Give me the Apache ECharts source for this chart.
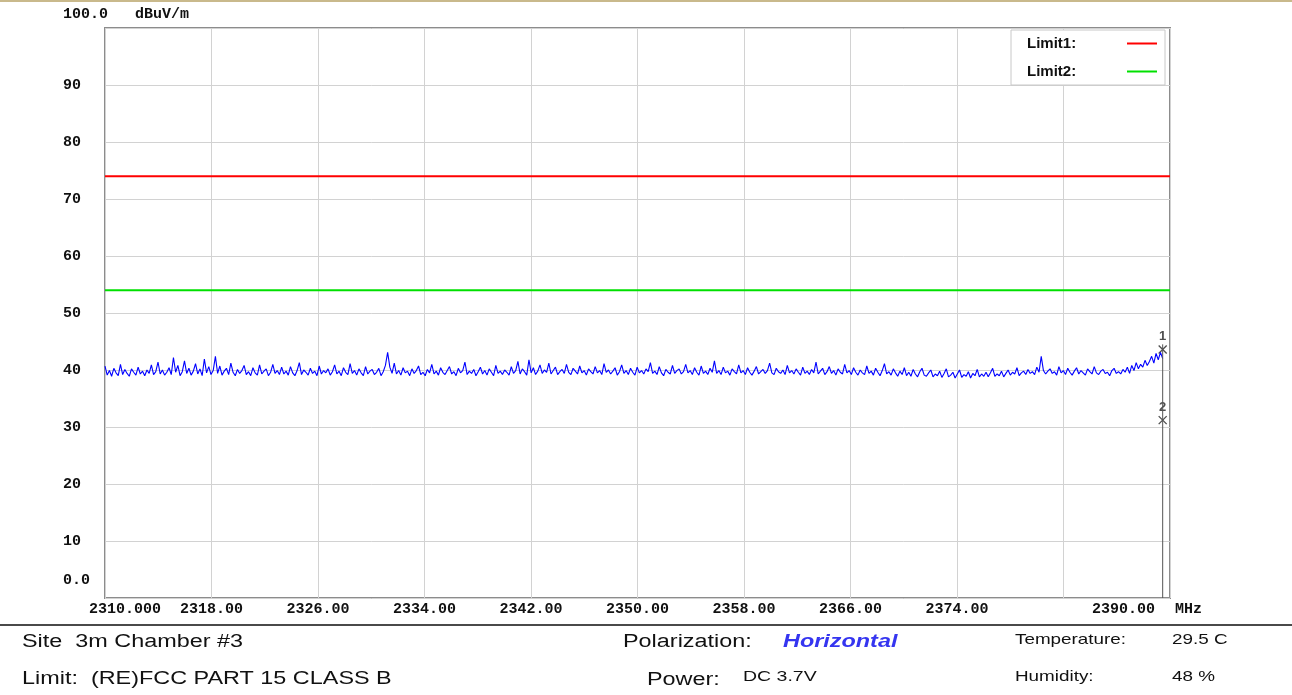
<!DOCTYPE html>
<html>
<head>
<meta charset="utf-8">
<script src="https://cdn.jsdelivr.net/npm/echarts@6/dist/echarts.min.js"></script>
<style>
html,body{margin:0;padding:0;background:#fff;}
#chart{width:1292px;height:695px;}
</style>
</head>
<body>
<div id="chart"></div>
<script>
// ---- data ----
const freqStart = 2310;
const freqEnd = 2389.45;
const traceValues = [
  40.7, 39.1, 39.9, 38.9, 40.3, 39.5, 39.0, 41.0, 39.2, 40.1, 39.4, 38.9, 40.2, 39.6, 39.1, 40.5, 39.3, 39.8, 39.0, 40.0,
  39.4, 40.9, 39.2, 39.7, 41.4, 39.3, 40.0, 39.1, 39.6, 40.4, 39.2, 42.2, 39.6, 40.8, 39.0, 39.7, 41.6, 39.4, 40.3, 39.1,
  39.8, 41.1, 39.3, 40.2, 39.0, 41.9, 39.5, 40.6, 39.2, 39.9, 42.4, 39.4, 40.7, 39.1, 39.8, 40.3, 39.2, 41.2, 39.6, 39.0,
  40.1, 39.4, 39.9, 40.8, 39.2, 39.7, 39.0, 40.4, 39.5, 39.1, 40.9, 39.3, 39.8, 40.2, 39.0, 39.6, 41.0, 39.4, 39.9, 39.2,
  40.5, 39.3, 39.8, 39.1, 40.6, 39.5, 39.0, 39.9, 41.3, 39.2, 40.0, 39.6, 39.1, 40.3, 39.4, 39.8, 39.0, 40.7, 39.3, 39.9,
  39.5, 40.2, 39.1, 39.7, 40.9, 39.3, 39.8, 39.0, 40.4, 39.6, 39.2, 41.1, 39.4, 39.9, 39.1, 40.2, 39.5, 39.0, 40.6, 39.3,
  39.8, 40.1, 39.2, 39.6, 40.3, 39.0, 39.7, 40.8, 43.1, 40.5, 39.4, 41.2, 39.3, 39.9, 39.1, 40.4, 39.5, 39.8, 39.0, 40.2,
  39.4, 39.9, 40.7, 39.2, 39.6, 39.0, 40.1, 39.5, 41.0, 39.3, 39.8, 39.1, 40.4, 39.6, 39.2, 39.9, 40.6, 39.3, 39.7, 39.0,
  40.3, 39.5, 39.9, 41.4, 39.2, 39.8, 39.4, 40.1, 39.0, 39.7, 40.5, 39.3, 39.9, 39.1, 40.2, 39.6, 39.0, 40.8, 39.4, 39.8,
  39.2, 40.0, 39.6, 39.1, 40.6, 39.4, 39.9, 41.5, 39.3, 40.2, 39.7, 39.1, 41.8, 39.5, 40.4, 39.2, 39.8, 40.9, 39.4, 40.0,
  39.6, 41.2, 39.3, 39.9, 40.5, 39.2, 39.7, 40.1, 39.4, 41.0, 39.6, 39.2, 40.3, 39.8, 39.3, 40.7, 39.5, 39.9, 39.1, 40.2,
  39.7, 39.3, 40.6, 39.5, 39.9, 39.2, 41.1, 39.6, 40.0, 39.3, 39.8, 40.4, 39.1, 39.7, 40.9, 39.4, 39.9, 39.2, 40.3, 39.6,
  39.1, 40.5, 39.5, 39.9, 39.3, 40.2, 39.7, 41.3, 39.4, 39.8, 39.2, 40.6, 39.5, 39.0, 40.1, 39.6, 39.3, 40.8, 39.4, 39.9,
  40.2, 39.3, 39.7, 41.0, 39.5, 39.9, 39.2, 40.4, 39.6, 39.1, 40.7, 39.4, 39.8, 39.2, 40.3, 39.6, 41.6, 39.4, 39.9, 39.2,
  40.5, 39.5, 39.8, 39.1, 40.2, 39.7, 39.3, 40.9, 39.5, 39.9, 39.2, 40.4, 39.6, 39.1, 39.8, 40.6, 39.3, 39.7, 40.1, 39.4,
  39.9, 41.2, 39.5, 39.2, 40.3, 39.7, 39.4, 40.0, 39.2, 40.8, 39.5, 39.9, 39.3, 40.2, 39.6, 39.1, 40.5, 39.4, 39.8, 39.2,
  40.1, 39.5, 41.4, 39.3, 39.8, 40.3, 39.2, 39.7, 40.6, 39.4, 39.9, 39.1, 40.2, 39.6, 39.3, 41.0, 39.5, 39.9, 39.2, 40.4,
  39.6, 39.1, 40.0, 39.5, 39.2, 40.7, 39.4, 39.8, 39.1, 40.3, 39.6, 39.0, 39.9, 41.1, 39.3, 39.7, 39.1, 40.2, 39.5, 38.9,
  39.8, 39.2, 40.4, 39.0, 39.6, 38.9, 40.1, 39.3, 38.8, 39.7, 40.3, 39.1, 38.9, 39.5, 40.0, 38.8, 39.3, 39.0, 39.8, 38.7,
  39.4, 40.2, 38.8, 39.1, 39.6, 38.6, 39.3, 40.0, 38.7, 39.2, 38.9, 39.7, 38.6, 39.4, 39.0, 40.1, 38.8, 39.3, 38.9, 39.6,
  38.8, 39.5, 40.3, 38.9, 39.3, 39.0, 39.8, 38.8, 39.4, 40.0, 39.1, 39.6, 39.3, 40.4, 39.0, 39.5, 39.8, 39.2, 40.1, 39.4,
  39.7, 39.2, 40.5, 39.6, 42.4, 39.9, 39.3, 39.8, 40.2, 39.4, 39.7, 39.1, 40.6, 39.5, 39.9, 39.2, 40.3, 39.6, 39.1, 39.8,
  40.4, 39.3, 39.9, 39.5, 39.1, 40.2, 39.7, 39.3, 40.6, 39.5, 39.2, 39.8, 40.1, 39.4, 39.6, 39.0, 39.9, 40.3, 39.4, 39.7,
  39.3, 40.1, 39.6, 40.5, 39.4, 40.8, 39.9, 41.3, 40.2, 41.0, 40.5, 41.7, 40.8, 41.5, 42.4, 41.2, 42.9, 41.8, 43.1, 42.0
];
const limit1Value = 74;
const limit2Value = 54;
const markerFreq = 2389.45;
const markerValues = [43.6, 31.2];
const markerLabels = ['1', '2'];
const markerLineRange = [44.5, 0];
const xTickLabels = ['2310.000','2318.00','2326.00','2334.00','2342.00','2350.00','2358.00','2366.00','2374.00','','2390.00'];
const yTickLabels = ['0.0','10','20','30','40','50','60','70','80','90','100.0'];

// ---- build ----
const step = (freqEnd - freqStart) / (traceValues.length - 1);
const traceData = traceValues.map((v, i) => [freqStart + i * step, v]);
const tickFont = {fontFamily: 'Liberation Mono', fontWeight: 'bold', fontSize: 15, color: '#111'};

const chart = echarts.init(document.getElementById('chart'), null, {renderer: 'canvas'});

function infoText(x, y, text, size, extra) {
  return {
    type: 'text', x: x, y: y, scaleX: 1.3, scaleY: 1, silent: true,
    style: Object.assign({
      text: text,
      font: size + 'px "Liberation Sans", Arial, sans-serif',
      fill: '#111',
      textAlign: 'left',
      textVerticalAlign: 'middle'
    }, extra || {})
  };
}

const option = {
  animation: false,
  backgroundColor: '#fff',
  grid: {
    left: 105, right: 122, top: 28, bottom: 97,
    show: true, borderColor: '#8c8c8c', borderWidth: 2, backgroundColor: '#fff'
  },
  legend: {
    data: ['Limit1', 'Limit2'],
    orient: 'vertical',
    align: 'right',
    right: 127, top: 30,
    padding: [6, 8, 6, 16],
    itemGap: 13,
    itemWidth: 30, itemHeight: 2,
    icon: 'rect',
    backgroundColor: '#fff',
    borderColor: '#c8c8c8', borderWidth: 1,
    formatter: name => '{t|' + name + ':}',
    textStyle: {
      rich: {
        t: {width: 95, align: 'left', fontFamily: 'Liberation Sans', fontWeight: 'bold', fontSize: 15, color: '#111', lineHeight: 16}
      }
    }
  },
  xAxis: {
    type: 'value', min: 2310, max: 2390, interval: 8,
    name: 'MHz', nameLocation: 'end', nameGap: 5,
    nameTextStyle: Object.assign({align: 'left', verticalAlign: 'top', padding: [4, 0, 0, 0]}, tickFont),
    axisLine: {show: false}, axisTick: {show: false},
    splitLine: {show: true, lineStyle: {color: '#d2d2d2', width: 1}},
    axisLabel: Object.assign({
      margin: 4, showMinLabel: true, showMaxLabel: true,
      formatter: function (v) {
        const i = Math.round((v - 2310) / 8);
        const t = xTickLabels[i] || '';
        if (i === 0) return '{first|' + t + '}';
        if (i === xTickLabels.length - 1) return '{last|' + t + '}';
        return t;
      },
      rich: {
        first: Object.assign({padding: [0, 0, 0, 40]}, tickFont),
        last: Object.assign({padding: [0, 93, 0, 0]}, tickFont)
      }
    }, tickFont)
  },
  yAxis: {
    type: 'value', min: 0, max: 100, interval: 10,
    name: 'dBuV/m', nameLocation: 'end', nameGap: 14,
    nameTextStyle: Object.assign({align: 'left', verticalAlign: 'middle', padding: [0, 0, 0, 30]}, tickFont),
    axisLine: {show: false}, axisTick: {show: false},
    splitLine: {show: true, lineStyle: {color: '#d2d2d2', width: 1}},
    axisLabel: Object.assign({
      margin: 42, align: 'left', showMinLabel: true, showMaxLabel: true,
      formatter: function (v) {
        const i = Math.round(v / 10);
        const t = yTickLabels[i];
        if (i === 0) return '{bot|' + t + '}';
        if (i === yTickLabels.length - 1) return '{top|' + t + '}';
        return t;
      },
      rich: {
        bot: Object.assign({padding: [0, 0, 36, 0]}, tickFont),
        top: Object.assign({padding: [0, 0, 28, 0]}, tickFont)
      }
    }, tickFont)
  },
  series: [
    {
      name: 'Limit1', type: 'line', symbol: 'none', silent: true,
      data: [[2310, limit1Value], [2390, limit1Value]],
      lineStyle: {color: '#ff0000', width: 2}, itemStyle: {color: '#ff0000'}
    },
    {
      name: 'Limit2', type: 'line', symbol: 'none', silent: true,
      data: [[2310, limit2Value], [2390, limit2Value]],
      lineStyle: {color: '#00e000', width: 2}, itemStyle: {color: '#00e000'}
    },
    {
      name: 'Trace', type: 'line', symbol: 'none', silent: true, sampling: null,
      data: traceData,
      lineStyle: {color: '#0000ff', width: 1.1}, itemStyle: {color: '#0000ff'}
    },
    {
      name: 'MarkerLine', type: 'line', symbol: 'none', silent: true,
      data: markerLineRange.map(v => [markerFreq, v]),
      lineStyle: {color: '#555', width: 1}
    },
    {
      name: 'Markers', type: 'scatter', silent: true,
      symbol: 'path://M0,0L10,10M10,0L0,10', symbolSize: 8,
      itemStyle: {color: 'rgba(0,0,0,0)', borderColor: '#222', borderWidth: 1.3},
      data: markerValues.map((v, i) => ({value: [markerFreq, v], label: {formatter: markerLabels[i]}})),
      label: {show: true, position: 'top', distance: 2, fontFamily: 'Liberation Sans', fontSize: 13, fontWeight: 'bold', color: '#222'}
    }
  ],
  graphic: [
    {type: 'rect', shape: {x: 0, y: 0, width: 1292, height: 2}, style: {fill: '#c9b98c'}, silent: true},
    {type: 'rect', shape: {x: 0, y: 624, width: 1292, height: 2}, style: {fill: '#4a4a4a'}, silent: true},
    infoText(22, 642, 'Site  3m Chamber #3', 18),
    infoText(22, 679, 'Limit:  (RE)FCC PART 15 CLASS B', 18),
    infoText(623, 642, 'Polarization:', 18),
    infoText(783, 642, 'Horizontal', 18, {font: 'italic bold 18px "Liberation Sans", Arial, sans-serif', fill: '#3535f0'}),
    infoText(647, 680, 'Power:', 18),
    infoText(743, 677, 'DC 3.7V', 15),
    infoText(1015, 640, 'Temperature:', 14.5),
    infoText(1172, 640, '29.5 C', 14.5),
    infoText(1015, 677, 'Humidity:', 14.5),
    infoText(1172, 677, '48 %', 14.5)
  ]
};
chart.setOption(option);
</script>
</body>
</html>
